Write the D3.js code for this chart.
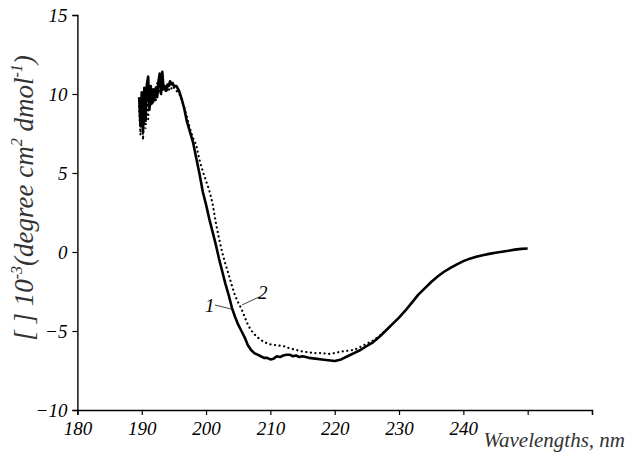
<!DOCTYPE html>
<html>
<head>
<meta charset="utf-8">
<script src="https://cdn.jsdelivr.net/npm/d3@7"></script>
<style>
  body { margin: 0; background: #fff; }
  svg text { font-family: 'Liberation Serif' !important; font-style: italic !important; }
</style>
</head>
<body>
<svg id="chart" width="628" height="455"></svg>
<script>
// Corba 1 (linia continua)
const wl1 = [189.6, 189.8, 190.0, 190.2, 190.4, 190.6, 190.8, 191.0, 191.2, 191.4, 191.6, 191.8,
  192.0, 192.2, 192.4, 192.6, 192.8, 193.0, 193.2, 193.4, 193.6, 193.8, 194.0, 194.2, 194.4,
  194.6, 194.8, 195.0, 195.4, 195.8, 196.2, 196.6, 197.0, 197.5, 198.0, 198.5, 199.0, 199.5,
  200.0, 200.5, 201.0, 201.5, 202.0, 202.5, 203.0, 203.5, 204.0, 204.5, 205.0, 205.5, 206.0,
  206.5, 207.0, 207.5, 208.0, 208.5, 209.0, 209.5, 210.0, 210.5, 211.0, 211.5, 212.0, 212.5,
  213.0, 213.5, 214.0, 214.5, 215.0, 216, 217, 218, 219, 220, 221, 222, 223, 224, 225, 226,
  227, 228, 229, 230, 231, 232, 233, 234, 235, 236, 237, 238, 239, 240, 241, 242, 243, 244,
  245, 246, 247, 248, 249, 250];
const cd1 = [9.8, 8.0, 10.1, 7.6, 10.4, 8.3, 10.6, 11.1, 9.0, 10.5, 9.4, 10.3,
  9.6, 10.4, 9.8, 10.8, 11.3, 10.0, 11.4, 10.3, 10.5, 10.2, 10.6, 10.5, 10.8,
  10.6, 10.7, 10.5, 10.5, 10.2, 9.7, 9.1, 8.3, 7.6, 6.9, 5.9, 4.9, 3.8,
  3.0, 2.1, 1.3, 0.5, -0.4, -1.2, -2.0, -2.7, -3.5, -4.1, -4.6, -5.0, -5.4,
  -5.9, -6.2, -6.4, -6.5, -6.6, -6.7, -6.7, -6.8, -6.75, -6.6, -6.65, -6.55, -6.5,
  -6.5, -6.6, -6.55, -6.65, -6.6, -6.7, -6.75, -6.8, -6.85, -6.9, -6.8, -6.6, -6.4, -6.2, -5.95, -5.7,
  -5.35, -4.95, -4.55, -4.15, -3.7, -3.2, -2.7, -2.3, -1.9, -1.55, -1.25, -1.0, -0.78, -0.58, -0.42, -0.3, -0.2, -0.12,
  -0.05, 0.02, 0.08, 0.15, 0.2, 0.22];

// Corba 2 (linia de punts)
const wl2 = [189.6, 189.8, 190.0, 190.2, 190.4, 190.6, 190.8, 191.0, 191.2, 191.4, 191.6, 191.8,
  192.0, 192.2, 192.4, 192.6, 192.8, 193.0, 193.2, 193.4, 193.6, 193.8, 194.0, 194.4, 194.8,
  195.2, 195.6, 196.0, 196.5, 197.0, 197.5, 198.0, 198.5, 199.0, 199.5, 200.0, 200.5, 201.0,
  201.5, 202.0, 202.5, 203.0, 203.5, 204.0, 204.5, 205.0, 205.5, 206.0, 206.5, 207.0, 207.5,
  208.0, 208.5, 209.0, 210, 211, 212, 213, 214, 215, 216, 217, 218, 219, 220, 221, 222, 223,
  224, 225, 226, 227, 228, 229];
const cd2 = [9.2, 7.4, 9.6, 7.1, 9.0, 7.8, 10.0, 8.4, 10.6, 9.2, 10.0, 9.4,
  10.2, 9.6, 10.7, 10.0, 10.4, 10.8, 10.2, 10.6, 10.3, 10.1, 10.4, 10.2, 10.5,
  10.3, 10.1, 9.9, 9.3, 8.6, 7.8, 7.2, 6.75, 5.8, 5.1, 4.5, 3.9, 3.1,
  1.9, 0.9, 0.0, -0.75, -1.4, -2.1, -2.75, -3.2, -3.6, -4.1, -4.6, -4.95, -5.2,
  -5.4, -5.55, -5.7, -5.85, -5.9, -5.95, -6.1, -6.2, -6.3, -6.35, -6.4, -6.4, -6.45, -6.4, -6.3, -6.25, -6.2,
  -6.0, -5.8, -5.6, -5.3, -4.95, -4.55];

const xTicks = [180, 190, 200, 210, 220, 230, 240, 250, 260];
const xTickLabels = ['180', '190', '200', '210', '220', '230', '240', '', ''];
const yTicks = [-10, -5, 0, 5, 10, 15];

const svg = d3.select('#chart');
const FONT = "'Liberation Serif'";

const x = d3.scaleLinear().domain([180, 260]).range([77.4, 592]);
const y = d3.scaleLinear().domain([-10, 15]).range([410, 15]);

// font serif en cursiva per a tots els textos
function serif(sel, size) {
    return sel.attr('font-family', 'Liberation Serif')
        .style('font-family', FONT, 'important')
        .style('font-style', 'italic', 'important')
        .style('font-size', size + 'px');
}

// Eix X
const xAxis = svg.append('g')
    .attr('transform', `translate(0,${y(-10)})`)
    .call(d3.axisBottom(x).tickValues(xTicks).tickSize(5).tickPadding(7)
        .tickFormat((d, i) => xTickLabels[i]));

// Eix Y
const yAxis = svg.append('g')
    .attr('transform', `translate(${x(180)},0)`)
    .call(d3.axisLeft(y).tickValues(yTicks).tickSize(5).tickPadding(5)
        .tickFormat(d => d < 0 ? '\u2212' + Math.abs(d) : d));

[xAxis, yAxis].forEach(ax => {
    ax.attr('font-family', 'Liberation Serif').attr('font-size', null);
    ax.select('.domain').attr('stroke', '#000').attr('stroke-width', 1.4);
    ax.selectAll('.tick line').attr('stroke', '#000').attr('stroke-width', 1.2);
    serif(ax.selectAll('.tick text').attr('fill', '#000'), 19);
});

const line = d3.line().x(d => x(d[0])).y(d => y(d[1]));

svg.append('path')
    .datum(d3.zip(wl2, cd2))
    .attr('fill', 'none')
    .attr('stroke', '#000')
    .attr('stroke-width', 2.2)
    .attr('stroke-linecap', 'round')
    .attr('stroke-dasharray', '0.1 4.5')
    .attr('d', line);

svg.append('path')
    .datum(d3.zip(wl1, cd1))
    .attr('fill', 'none')
    .attr('stroke', '#000')
    .attr('stroke-width', 2.6)
    .attr('stroke-linejoin', 'round')
    .attr('d', line);

// Etiquetes de corba
svg.append('line').attr('x1', 215).attr('y1', 305).attr('x2', 231).attr('y2', 309)
    .attr('stroke', '#444').attr('stroke-width', 1);
serif(svg.append('text').attr('x', 205).attr('y', 312), 19).text('1');
svg.append('line').attr('x1', 259).attr('y1', 297).attr('x2', 242).attr('y2', 305)
    .attr('stroke', '#444').attr('stroke-width', 1);
serif(svg.append('text').attr('x', 258).attr('y', 299), 19).text('2');

// Titol eix X
serif(svg.append('text'), 21)
    .attr('x', 625).attr('y', 447)
    .attr('text-anchor', 'end')
    .attr('fill', '#333')
    .text('Wavelengths, nm');

// Titol eix Y
const yl = serif(svg.append('text'), 27)
    .attr('transform', 'translate(33,198) rotate(-90)')
    .attr('text-anchor', 'middle')
    .attr('fill', '#333');
yl.append('tspan').text('[  ]  10');
yl.append('tspan').attr('dy', -11).style('font-size', '16px').text('-3');
yl.append('tspan').attr('dy', 11).text('(degree cm');
yl.append('tspan').attr('dy', -11).style('font-size', '16px').text('2');
yl.append('tspan').attr('dy', 11).text(' dmol');
yl.append('tspan').attr('dy', -11).style('font-size', '16px').text('-1');
yl.append('tspan').attr('dy', 11).text(')');
</script>
</body>
</html>
